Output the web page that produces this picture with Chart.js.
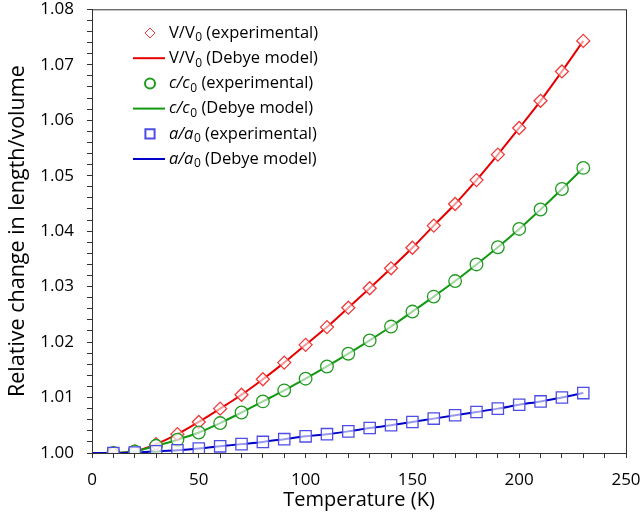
<!DOCTYPE html>
<html>
<head>
<meta charset="utf-8">
<script src="https://cdn.jsdelivr.net/npm/chart.js@4.4.0/dist/chart.umd.min.js"></script>
<style>
  html, body { margin: 0; padding: 0; background: #fff; }
  #wrap { width: 640px; height: 517px; }
</style>
</head>
<body>
<div id="wrap"><canvas id="grafico" width="640" height="517"></canvas></div>
<script>
// temperaturas (K) dos pontos experimentais e do modelo
var temperaturas = [10, 20, 30, 40, 50, 60, 70, 80, 90, 100, 110, 120, 130, 140, 150, 160, 170, 180, 190, 200, 210, 220, 230];
var tempModelo = [0, 10, 20, 30, 40, 50, 60, 70, 80, 90, 100, 110, 120, 130, 140, 150, 160, 170, 180, 190, 200, 210, 220, 230];

// V/V0
var volExp = [1.0000, 1.0003, 1.0016, 1.0034, 1.0056, 1.0080, 1.0105, 1.0133, 1.0163, 1.0195, 1.0227, 1.0262, 1.0297, 1.0333, 1.0370, 1.0410, 1.0449, 1.0492, 1.0538, 1.0586, 1.0635, 1.0688, 1.0743];
var volModelo = [1.0000, 1.0000, 1.0003, 1.0016, 1.0034, 1.0056, 1.0080, 1.0105, 1.0133, 1.0163, 1.0195, 1.0227, 1.0262, 1.0297, 1.0333, 1.0370, 1.0410, 1.0449, 1.0492, 1.0538, 1.0586, 1.0635, 1.0688, 1.0743];

// c/c0
var cExp = [1.0000, 1.0003, 1.0013, 1.0024, 1.0037, 1.0054, 1.0073, 1.0093, 1.0113, 1.0134, 1.0156, 1.0179, 1.0203, 1.0228, 1.0255, 1.0282, 1.0310, 1.0340, 1.0371, 1.0404, 1.0439, 1.0476, 1.0514];
var cModelo = [1.0000, 1.0000, 1.0003, 1.0013, 1.0024, 1.0037, 1.0054, 1.0073, 1.0093, 1.0113, 1.0134, 1.0156, 1.0179, 1.0203, 1.0228, 1.0255, 1.0282, 1.0310, 1.0340, 1.0371, 1.0404, 1.0439, 1.0476, 1.0514];

// a/a0
var aExp = [1.0000, 1.0001, 1.0003, 1.0005, 1.0008, 1.0012, 1.0016, 1.0020, 1.0025, 1.0030, 1.0034, 1.0039, 1.0045, 1.0050, 1.0056, 1.0062, 1.0068, 1.0074, 1.0080, 1.0087, 1.0093, 1.0100, 1.0108];
var aModelo = [1.0000, 1.0000, 1.0001, 1.0003, 1.0005, 1.0008, 1.0012, 1.0016, 1.0020, 1.0025, 1.0030, 1.0034, 1.0039, 1.0045, 1.0050, 1.0056, 1.0062, 1.0068, 1.0074, 1.0080, 1.0087, 1.0093, 1.0100, 1.0108];

// eixos
var eixoX = { min: 0, max: 250, passo: 10, principal: 50 };
var eixoY = { min: 1.00, max: 1.08, passo: 0.002, principal: 0.01 };
var tituloX = 'Temperature (K)';
var tituloY = 'Relative change in length/volume';

// textos da legenda: [texto, italico, subscrito, resto]
var legendaTextos = [
    ['V/V', false, '0', ' (experimental)'],
    ['V/V', false, '0', ' (Debye model)'],
    ['c/c', true, '0', ' (experimental)'],
    ['c/c', true, '0', ' (Debye model)'],
    ['a/a', true, '0', ' (experimental)'],
    ['a/a', true, '0', ' (Debye model)']
];

var fonte = "'Open Sans', 'Noto Sans', sans-serif";

function pares(xs, ys) {
    return xs.map(function (x, i) { return { x: x, y: ys[i] }; });
}

function pontos(nome, dados, estilo, raio, cor, ordem) {
    return {
        label: nome,
        data: pares(temperaturas, dados),
        showLine: false,
        pointStyle: estilo,
        pointRadius: raio,
        pointBorderWidth: 1.3,
        pointBorderColor: cor,
        pointBackgroundColor: 'rgba(255,255,255,0.6)',
        borderColor: cor,
        backgroundColor: 'rgba(255,255,255,0.6)',
        order: ordem
    };
}

function linha(nome, dados, cor, ordem) {
    return {
        label: nome,
        data: pares(tempModelo, dados),
        showLine: true,
        pointRadius: 0,
        borderColor: cor,
        borderWidth: 2,
        cubicInterpolationMode: 'monotone',
        fill: false,
        order: ordem
    };
}

// legenda desenhada dentro da area do grafico
var legendaDentro = {
    id: 'legendaDentro',
    afterDraw: function (chart) {
        var ctx = chart.ctx;
        ctx.save();
        chart.data.datasets.forEach(function (ds, i) {
            var y = 33 + i * 25.2;
            if (ds.showLine) {
                ctx.strokeStyle = ds.borderColor;
                ctx.lineWidth = 2;
                ctx.beginPath();
                ctx.moveTo(133, y);
                ctx.lineTo(165, y);
                ctx.stroke();
            } else {
                ctx.strokeStyle = ds.pointBorderColor;
                ctx.fillStyle = 'rgba(255,255,255,0)';
                var r = ds.pointStyle == 'rect' ? 6.5 : 5;
                Chart.helpers.drawPoint(ctx, { pointStyle: ds.pointStyle, radius: r, borderWidth: 1.3, rotation: 0 }, 150, y);
            }
            var t = legendaTextos[i];
            var x = 169;
            ctx.fillStyle = '#000';
            ctx.textBaseline = 'middle';
            ctx.textAlign = 'left';
            ctx.font = (t[1] ? 'italic ' : '') + '16.5px ' + fonte;
            ctx.fillText(t[0], x, y);
            x += ctx.measureText(t[0]).width + 0.5;
            ctx.font = '12px ' + fonte;
            ctx.fillText(t[2], x, y + 5);
            x += ctx.measureText(t[2]).width;
            ctx.font = '16.5px ' + fonte;
            ctx.fillText(t[3], x, y);
        });
        // moldura em volta da area
        var a = chart.chartArea;
        ctx.strokeStyle = '#333';
        ctx.lineWidth = 1;
        ctx.strokeRect(a.left + 0.5, a.top + 0.5, a.right - a.left, a.bottom - a.top);
        ctx.restore();
    }
};

function rotuloPrincipal(valor, principal, casas) {
    var q = valor / principal;
    if (Math.abs(q - Math.round(q)) < 1e-6) return valor.toFixed(casas);
    return '';
}

const ctx = document.getElementById('grafico');

new Chart(ctx, {
    type: 'scatter',
    data: {
        datasets: [
            pontos('V/V0 (experimental)', volExp, 'rectRot', 6.5, '#ee3b3b', 2),
            linha('V/V0 (Debye model)', volModelo, '#e60000', 5),
            pontos('c/c0 (experimental)', cExp, 'circle', 6.3, '#1f9a1f', 1),
            linha('c/c0 (Debye model)', cModelo, '#119911', 4),
            pontos('a/a0 (experimental)', aExp, 'rect', 8, '#4d4de6', 0),
            linha('a/a0 (Debye model)', aModelo, '#0000c8', 3)
        ]
    },
    options: {
        responsive: false,
        animation: false,
        devicePixelRatio: 1,
        layout: { padding: { top: 6, right: 14, left: 0, bottom: 0 } },
        plugins: {
            legend: { display: false },
            tooltip: { enabled: false }
        },
        scales: {
            x: {
                type: 'linear',
                min: eixoX.min,
                max: eixoX.max,
                afterBuildTicks: function (s) {
                    s.ticks = [];
                    for (var v = eixoX.min; v <= eixoX.max + 1e-9; v += eixoX.passo) s.ticks.push({ value: v });
                },
                afterFit: function (s) { s.height = 64; s.paddingLeft = 0; s.paddingRight = 0; },
                grid: { drawOnChartArea: false, drawTicks: true, tickLength: 5, color: '#333' },
                border: { display: true, color: '#333', width: 1 },
                ticks: {
                    autoSkip: false,
                    maxRotation: 0,
                    padding: 12,
                    color: '#000',
                    font: { family: fonte, size: 17 },
                    callback: function (v) { return rotuloPrincipal(v, eixoX.principal, 0); }
                },
                title: {
                    display: true,
                    text: tituloX,
                    color: '#000',
                    font: { family: fonte, size: 20 },
                    padding: { top: 0, bottom: 5 }
                }
            },
            y: {
                type: 'linear',
                min: eixoY.min,
                max: eixoY.max,
                afterBuildTicks: function (s) {
                    s.ticks = [];
                    for (var k = 0; k <= 40; k++) s.ticks.push({ value: +(eixoY.min + k * eixoY.passo).toFixed(4) });
                },
                afterFit: function (s) { s.width = 92; s.paddingTop = 0; s.paddingBottom = 0; },
                grid: { drawOnChartArea: false, drawTicks: true, tickLength: 5, color: '#333' },
                border: { display: true, color: '#333', width: 1 },
                ticks: {
                    autoSkip: false,
                    padding: 13,
                    color: '#000',
                    font: { family: fonte, size: 17 },
                    callback: function (v) { return rotuloPrincipal(v, eixoY.principal, 2); }
                },
                title: {
                    display: true,
                    text: tituloY,
                    color: '#000',
                    font: { family: fonte, size: 21.5 },
                    padding: { top: 5, bottom: 0 }
                }
            }
        }
    },
    plugins: [legendaDentro]
});
</script>
</body>
</html>
